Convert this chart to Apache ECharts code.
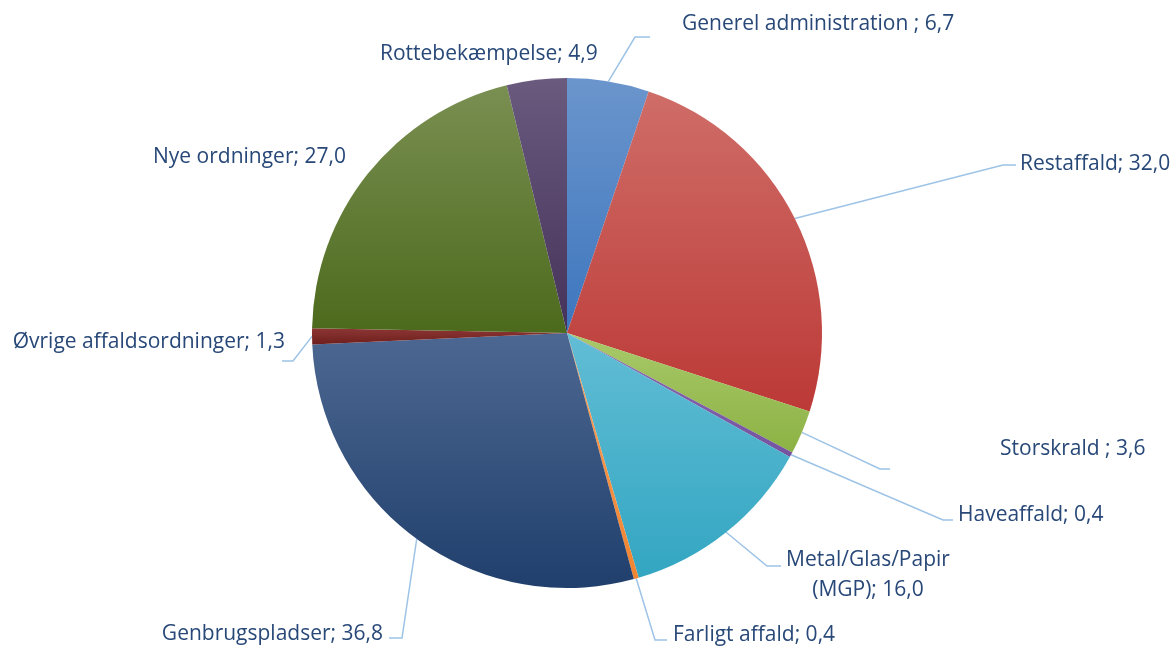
<!DOCTYPE html>
<html>
<head>
<meta charset="utf-8">
<script src="https://cdn.jsdelivr.net/npm/echarts@6/dist/echarts.min.js"></script>
<style>
html,body{margin:0;padding:0;background:#fff;}
#chart{width:1174px;height:646px;}
</style>
</head>
<body>
<div id="chart"></div>
<script>
// Data
var categories = ['Generel administration ', 'Restaffald', 'Storskrald ', 'Haveaffald', 'Metal/Glas/Papir\n(MGP)', 'Farligt affald', 'Genbrugspladser', 'Øvrige affaldsordninger', 'Nye ordninger', 'Rottebekæmpelse'];
var values = [6.7, 32.0, 3.6, 0.4, 16.0, 0.4, 36.8, 1.3, 27.0, 4.9];

// Styles (top colour, bottom colour) per slice
var colorTop = ['#6b95cc', '#cf6d68', '#a9c96a', '#8a6fb0', '#62bdd5', '#f9a05a', '#4c6892', '#8c3634', '#7a8f52', '#6a5a7e'];
var colorBot = ['#3d76be', '#bc3936', '#8cb244', '#7452a0', '#33a6c2', '#f08430', '#213f6c', '#6e1f1d', '#4c6a1c', '#45325a'];

// Label layout (elbow, end, text anchor)
var labelLayouts = [
  {elbow:[635,37], end:[650,37], x:682, y:24, align:'left'},
  {elbow:[1003,165], end:[1016,165], x:1020, y:164, align:'left'},
  {elbow:[880,469], end:[890,469], x:1000, y:449, align:'left'},
  {elbow:[943,520], end:[953,520], x:958, y:515, align:'left'},
  {elbow:[767,566], end:[781,566], x:868, y:575, align:'center'},
  {elbow:[655,640], end:[667,640], x:673, y:635, align:'left'},
  {elbow:[402,638], end:[389,638], x:383, y:634, align:'right'},
  {elbow:[293,361], end:[282,361], x:285, y:342, align:'right'},
  {x:153, y:157, align:'left', noLine:true},
  {x:380, y:54, align:'left', noLine:true}
];

function fmt(v){ return v.toFixed(1).replace('.', ','); }

var data = categories.map(function(c, i){
  var item = {
    name: c,
    value: values[i],
    itemStyle: {
      color: {
        type: 'linear', x: 0, y: 0, x2: 0, y2: 1,
        colorStops: [{offset: 0, color: colorTop[i]}, {offset: 1, color: colorBot[i]}]
      }
    }
  };
  if (labelLayouts[i].noLine) item.labelLine = {show: false};
  return item;
});

var chart = echarts.init(document.getElementById('chart'), null, {renderer: 'canvas'});
chart.setOption({
  backgroundColor: '#ffffff',
  animation: false,
  series: [{
    type: 'pie',
    center: [567, 333],
    radius: [0, 255],
    startAngle: 90,
    clockwise: true,
    avoidLabelOverlap: false,
    data: data,
    itemStyle: {borderWidth: 0},
    label: {
      show: true,
      position: 'outside',
      fontFamily: 'Open Sans',
      fontSize: 21,
      lineHeight: 30,
      color: '#284878',
      formatter: function(p){ return p.name + '; ' + fmt(p.value); }
    },
    labelLine: {
      show: true,
      length: 10,
      length2: 10,
      lineStyle: {color: '#9dc3e6', width: 1.5}
    },
    labelLayout: function(params){
      var L = labelLayouts[params.dataIndex];
      var res = {x: L.x, y: L.y, align: L.align, verticalAlign: 'middle'};
      if (!L.noLine && params.labelLinePoints) {
        res.labelLinePoints = [params.labelLinePoints[0], L.elbow, L.end];
      }
      return res;
    }
  }]
});
</script>
</body>
</html>
